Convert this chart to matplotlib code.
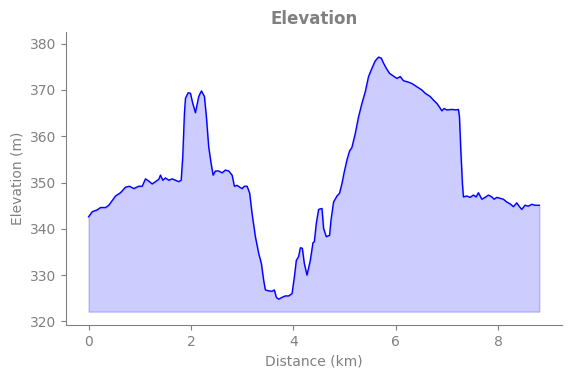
import matplotlib
matplotlib.use("Agg")
import matplotlib.pyplot as plt

# distance along the route (km) and elevation (m)
distance_km = [
    0.0, 0.072, 0.170, 0.234, 0.332, 0.396, 0.527, 0.624, 0.722, 0.800,
    0.884, 0.981, 1.048, 1.112, 1.177, 1.243, 1.307, 1.372, 1.405, 1.450,
    1.502, 1.567, 1.633, 1.698, 1.762, 1.809, 1.840, 1.873, 1.893, 1.945,
    1.990, 2.035, 2.088, 2.152, 2.205, 2.263, 2.302, 2.347, 2.394,
    2.433, 2.478, 2.542, 2.609, 2.673, 2.738, 2.804, 2.849, 2.901, 2.952,
    2.999, 3.044, 3.097, 3.147, 3.194, 3.259, 3.323, 3.376, 3.420, 3.454,
    3.518, 3.584, 3.629, 3.668, 3.713, 3.780, 3.844, 3.908, 3.975, 4.020,
    4.059, 4.103, 4.137, 4.176, 4.215, 4.267, 4.332, 4.384, 4.410, 4.449,
    4.494, 4.560, 4.591, 4.644, 4.708, 4.736, 4.786, 4.853, 4.903, 4.950,
    4.995, 5.048, 5.098, 5.145, 5.210, 5.274, 5.340, 5.405, 5.469, 5.536,
    5.600, 5.664, 5.717, 5.762, 5.815, 5.879, 5.957, 6.023, 6.088, 6.152,
    6.250, 6.316, 6.414, 6.511, 6.576, 6.673, 6.738, 6.804, 6.855, 6.901,
    6.946, 6.999, 7.097, 7.180, 7.225, 7.245, 7.272, 7.303, 7.323, 7.389,
    7.454, 7.518, 7.571, 7.616, 7.682, 7.746, 7.811, 7.877, 7.922, 7.975,
    8.039, 8.103, 8.170, 8.234, 8.298, 8.365, 8.410, 8.462, 8.527, 8.591,
    8.657, 8.722, 8.806,
]
elevation_m = [
    342.6, 343.7, 344.1, 344.6, 344.6, 345.1, 347.1, 347.8, 349.0, 349.2,
    348.7, 349.2, 349.2, 350.8, 350.3, 349.7, 350.2, 350.7, 351.6, 350.5,
    351.0, 350.5, 350.8, 350.5, 350.2, 350.5, 355.6, 365.0, 368.2, 369.4,
    369.3, 367.1, 365.1, 368.6, 369.8, 368.6, 364.2, 357.7, 354.1,
    351.6, 352.5, 352.5, 352.1, 352.7, 352.5, 351.6, 349.2, 349.4, 349.0,
    348.7, 349.2, 349.2, 347.7, 343.3, 338.3, 334.7, 332.5, 328.9, 326.8,
    326.6, 326.5, 326.8, 325.2, 324.8, 325.2, 325.5, 325.5, 326.0, 329.6,
    333.2, 334.0, 335.9, 335.8, 332.5, 330.0, 333.2, 337.0, 337.2, 341.2,
    344.2, 344.4, 340.1, 338.3, 338.6, 341.9, 345.8, 347.1, 347.7, 349.8,
    352.3, 354.9, 356.8, 357.6, 360.6, 364.2, 367.1, 369.6, 372.9, 374.7,
    376.3, 377.1, 376.9, 375.8, 374.7, 373.6, 373.0, 372.5, 372.9, 372.0,
    371.7, 371.4, 370.7, 370.0, 369.3, 368.6, 367.8, 367.1, 366.3, 365.5,
    366.0, 365.7, 365.8, 365.7, 365.8, 364.2, 357.0, 349.8, 346.9, 347.1,
    346.8, 347.3, 346.9, 347.8, 346.4, 346.8, 347.3, 346.9, 346.4, 346.8,
    346.6, 346.4, 345.8, 345.4, 344.8, 345.6, 344.9, 344.2, 345.1, 344.9,
    345.3, 345.1, 345.1,
]
fill_floor = 322.1

text_color = "gray"

fig = plt.figure(figsize=(5.71, 3.78), dpi=100)
ax = fig.add_axes([0.1156, 0.140, 0.8684, 0.775])

ax.fill_between(distance_km, elevation_m, fill_floor, color="blue", alpha=0.2)
ax.plot(distance_km, elevation_m, color="blue", linewidth=1)

ax.set_ylim(319.2, 382.5)
ax.set_xticks([0, 2, 4, 6, 8])
ax.set_yticks([320, 330, 340, 350, 360, 370, 380])

ax.set_title("Elevation", color=text_color, fontweight="bold", fontsize=12)
ax.set_xlabel("Distance (km)", color=text_color)
ax.set_ylabel("Elevation (m)", color=text_color)

ax.spines["top"].set_visible(False)
ax.spines["right"].set_visible(False)
for side in ["left", "bottom"]:
    ax.spines[side].set_color(text_color)
ax.tick_params(colors=text_color, labelcolor=text_color)

fig.savefig("out.png", dpi=100)
